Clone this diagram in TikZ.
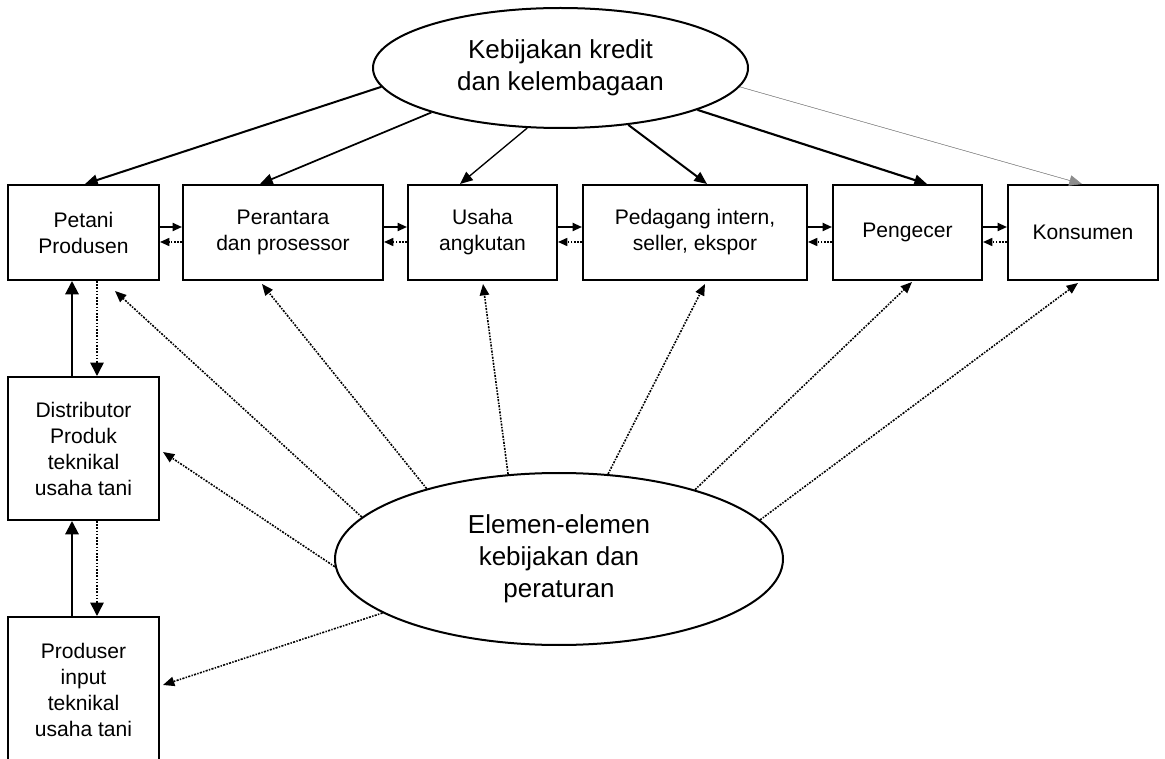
\documentclass[tikz,border=0pt]{standalone}
\usepackage{fontspec}
\setmainfont{Liberation Sans}
\usetikzlibrary{shapes.geometric,arrows.meta,calc}
\begin{document}
\begin{tikzpicture}[x=0.75pt,y=-0.75pt,
  box/.style={draw,line width=1.5pt,inner sep=0pt,align=center,
    font=\fontsize{15.8}{19.5}\selectfont},
  ell/.style={draw,ellipse,line width=1.5pt,inner sep=0pt,align=center,
    font=\fontsize{19.5}{24}\selectfont},
  topw/.style={-{Triangle[length=9.5pt,width=8pt]}},
  hsolid/.style={line width=1.4pt,-{Triangle[length=7pt,width=6pt]}},
  hdot/.style={line width=1.2pt,dash pattern=on 1.2pt off 1.2pt,-{Triangle[length=7pt,width=6pt]}},
  vsolid/.style={line width=1.5pt,-{Triangle[length=10pt,width=10pt]}},
  vdot/.style={line width=1.2pt,dash pattern=on 1.2pt off 1.2pt,-{Triangle[length=10pt,width=10pt]}},
  ddot/.style={line width=1.2pt,dash pattern=on 1.6pt off 1pt on 1pt off 1pt,-{Triangle[length=8.5pt,width=7pt]}}
]
\useasboundingbox (0,0) rectangle (1165,759);
\fill[white] (0,0) rectangle (1165,759);

% top ellipse
\node[ell,minimum width=281.25pt,minimum height=90pt] (kredit) at (560.5,68)
  {Kebijakan kredit\\dan kelembagaan};
% bottom ellipse
\node[ell,minimum width=336pt,minimum height=129pt] (elemen) at (559,559)
  {Elemen-elemen\\kebijakan dan\\peraturan};

% top row
\node[box,minimum width=113.25pt,minimum height=71.25pt] (petani) at (83.5,232.5) {Petani\\Produsen};
\node[box,minimum width=150pt,minimum height=71.25pt] (perantara) at (283,232.5) {Perantara\\dan prosessor};
\node[box,minimum width=111.75pt,minimum height=71.25pt] (usaha) at (482.5,232.5) {Usaha\\angkutan};
\node[box,minimum width=168pt,minimum height=71.25pt] (pedagang) at (695,232.5) {Pedagang intern,\\seller, ekspor};
\node[box,minimum width=111.75pt,minimum height=71.25pt] (pengecer) at (907.5,232.5) {Pengecer};
\node[box,minimum width=112.5pt,minimum height=71.25pt] (konsumen) at (1083,232.5) {Konsumen};

% left column
\node[box,minimum width=113.25pt,minimum height=107.25pt] (distributor) at (83.5,448.5)
  {Distributor\\Produk\\teknikal\\usaha tani};
\node[box,minimum width=113.25pt,minimum height=108.75pt] (produser) at (83.5,689.5)
  {Produser\\input\\teknikal\\usaha tani};

% horizontal arrows
\foreach \a/\b in {petani/perantara,perantara/usaha,usaha/pedagang,pedagang/pengecer,pengecer/konsumen}{
  \draw[hsolid] ($(\a.east)+(0,-5.5)$) -- ($(\b.west)+(0,-5.5)$);
  \draw[hdot] ($(\b.west)+(0,9.5)$) -- ($(\a.east)+(0,9.5)$);
}

% vertical arrows
\draw[vsolid] ($(distributor.north)+(-11.5,0)$) -- ($(petani.south)+(-11.5,0)$);
\draw[vdot] ($(petani.south)+(13.5,0)$) -- ($(distributor.north)+(13.5,0)$);
\draw[vsolid] ($(produser.north)+(-11.5,0)$) -- ($(distributor.south)+(-11.5,0)$);
\draw[vdot] ($(distributor.south)+(13.5,0)$) -- ($(produser.north)+(13.5,0)$);

% arrows from top ellipse
\draw[topw,line width=1.5pt] (kredit.186.4) -- ($(petani.north)+(1.5,0)$);
\draw[topw,line width=1.3pt] (kredit.199.3) -- ($(perantara.north)+(-23,0)$);
\draw[topw,line width=1pt] (kredit.241.6) -- ($(usaha.north)+(-22.5,0)$);
\draw[topw,line width=1.5pt] (kredit.320.5) -- ($(pedagang.north)+(12,0)$);
\draw[topw,line width=1.6pt] (kredit.343.6) -- ($(pengecer.north)+(19.5,0)$);
\draw[topw,line width=0.4pt,draw=black!45,fill=black] (kredit.354.6) -- ($(konsumen.north)+(-1,0)$);

% dotted arrows from bottom ellipse
\draw[ddot] (elemen.168.5) -- ($(petani.south)+(31.5,10)$);
\draw[ddot] (elemen.152.2) -- ($(perantara.south)+(-21,3)$);
\draw[ddot] (elemen.121.2) -- ($(usaha.south)+(0.5,3)$);
\draw[ddot] (elemen.60.8) -- ($(pedagang.south)+(10,3)$);
\draw[ddot] (elemen.27.8) -- ($(pengecer.south)+(4.5,1)$);
\draw[ddot] (elemen.11.5) -- ($(konsumen.south)+(-5,2)$);
\draw[ddot] (elemen.182.3) -- ($(distributor.east)+(3,3.5)$);
\draw[ddot] (elemen.197.8) -- ($(produser.east)+(3,-4.5)$);
\end{tikzpicture}
\end{document}
